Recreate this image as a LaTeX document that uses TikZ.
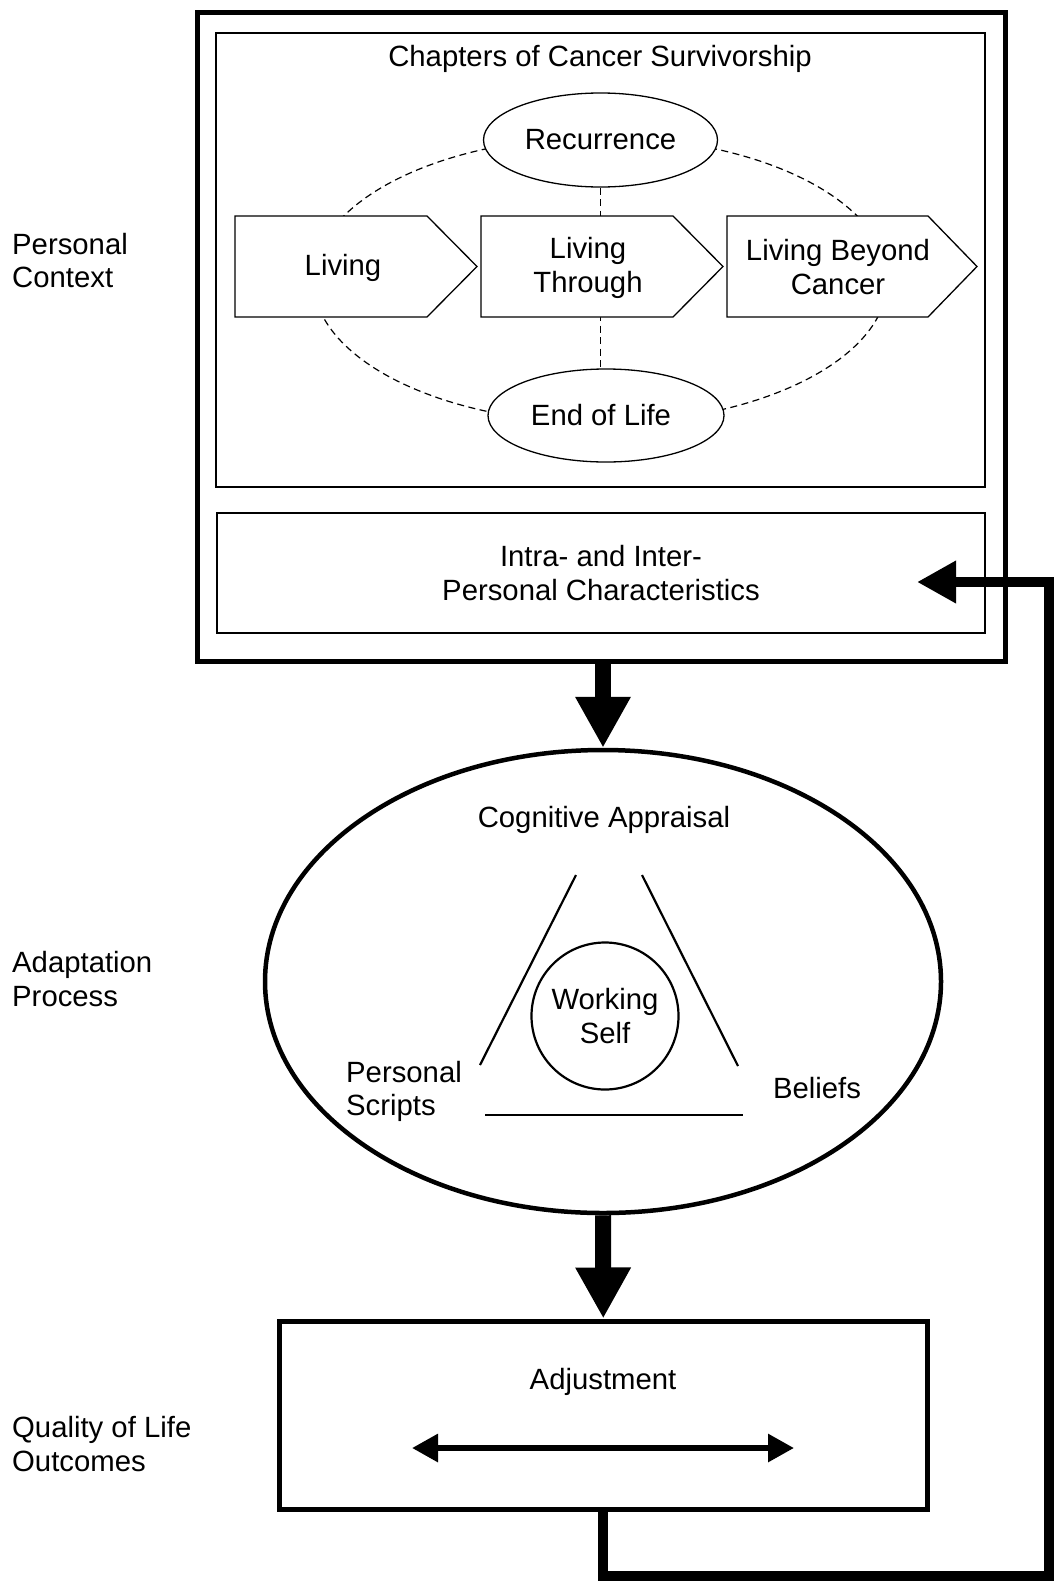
\documentclass[tikz,border=0pt]{standalone}
\usepackage{fontspec}
\setmainfont{Liberation Sans}
\usetikzlibrary{shapes.geometric,arrows.meta}
\pgfdeclarelayer{bg}
\pgfdeclarelayer{under}
\pgfsetlayers{bg,under,main}

\begin{document}
\begin{tikzpicture}[x=1pt,y=-1pt,
  txt/.style={font=\fontsize{29.3}{33.5}\selectfont, inner sep=0pt, align=center},
  sidelabel/.style={txt, align=left, anchor=west},
  boxline/.style={draw, line width=#1, inner sep=0pt},
  thinline/.style={line width=1.3pt},
  chapdash/.style={line width=1.2pt, dash pattern=on 7pt off 4.5pt},
  bigarrow/.style={line width=16pt, -{Triangle[length=51pt,width=52pt]}},
  fbarrow/.style={line width=10pt, line join=miter, -{Triangle[length=39pt,width=40pt]}},
  dblarrow/.style={line width=6pt, {Triangle[length=26pt,width=27pt]}-{Triangle[length=26pt,width=27pt]}},
]
\useasboundingbox (0,0) rectangle (1055,1582);
\begin{pgfonlayer}{bg}
  \fill[white] (0,0) rectangle (1055,1582);
\end{pgfonlayer}

% ---- personal context ----
\node[boxline=5pt, minimum width=808pt, minimum height=649pt] (outer) at (601,336.5) {};
\node[boxline=1.8pt, minimum width=769pt, minimum height=454pt] (chapters) at (600.5,260) {};
\node[txt] (chaptitle) at (600,59) {Chapters of Cancer Survivorship};

\node[txt, draw, thinline, fill=white, ellipse, minimum width=234pt, minimum height=94pt] (rec) at (600.5,140) {Recurrence};
\node[txt, draw, thinline, fill=white, ellipse, minimum width=236pt, minimum height=93pt] (eol) at (606,415.5) {\hspace*{-10pt}End of Life};

% chapter arrows
\path[draw, fill=white, thinline] (235,216) -- (427,216) -- (477,266.5) -- (427,317) -- (235,317) -- cycle;
\path[draw, fill=white, thinline] (481,216) -- (673,216) -- (723,266.5) -- (673,317) -- (481,317) -- cycle;
\path[draw, fill=white, thinline] (727,216) -- (928,216) -- (977,266.5) -- (928,317) -- (727,317) -- cycle;
\node[txt] (living) at (343,268) {Living};
\node[txt] (through) at (588,268) {Living\\Through};
\node[txt] (beyond) at (838,267) {Living Beyond\\Cancer};

\begin{pgfonlayer}{under}
  \draw[chapdash] (600.5,280) ellipse [x radius=287pt, y radius=143pt];
  \draw[chapdash] (rec.south) -- (rec.south |- eol.north);
\end{pgfonlayer}

\node[txt, boxline=1.8pt, minimum width=768pt, minimum height=120pt] (intra) at (601,573) {Intra- and Inter-\\Personal Characteristics};

% ---- adaptation process ----
\node[boxline=4.5pt, ellipse, minimum width=676pt, minimum height=463pt] (cog) at (603,981.5) {};
\node[txt] (cogtitle) at (604,820) {Cognitive Appraisal};
\draw[line width=2.2pt] (576,875) -- (480,1065);
\draw[line width=2.2pt] (642,875) -- (738,1066);
\draw[line width=2.2pt] (485,1115) -- (743,1115);
\node[txt, draw, line width=2.2pt, circle, minimum size=147pt] (ws) at (605,1016) {Working\\Self};
\node[sidelabel] (scripts) at (346,1091.5) {Personal\\Scripts};
\node[txt] (beliefs) at (817,1088) {Beliefs};

% ---- quality of life outcomes ----
\node[boxline=5pt, minimum width=648.5pt, minimum height=188pt] (adj) at (603.25,1415) {};
\node[txt] (adjtitle) at (603,1382) {Adjustment};
\coordinate (qa) at (412,1448);
\coordinate (qb) at (794,1448);
\draw[dblarrow] (qa) -- (qb);

% ---- side labels ----
\node[sidelabel] (lctx) at (12,260.5) {Personal\\Context};
\node[sidelabel] (lada) at (12,979) {Adaptation\\Process};
\node[sidelabel] (lqol) at (12,1444) {Quality of Life\\Outcomes};

% ---- flow arrows ----
\draw[bigarrow] (cog.north |- outer.south) -- (cog.north);
\draw[bigarrow] (cog.south) -- (adj.north);
\coordinate (fbcorner) at (1049,1576);
\coordinate (fbtip) at (917,582);
\draw[fbarrow] (adj.south) |- (fbcorner) |- (fbtip);
\end{tikzpicture}
\end{document}
